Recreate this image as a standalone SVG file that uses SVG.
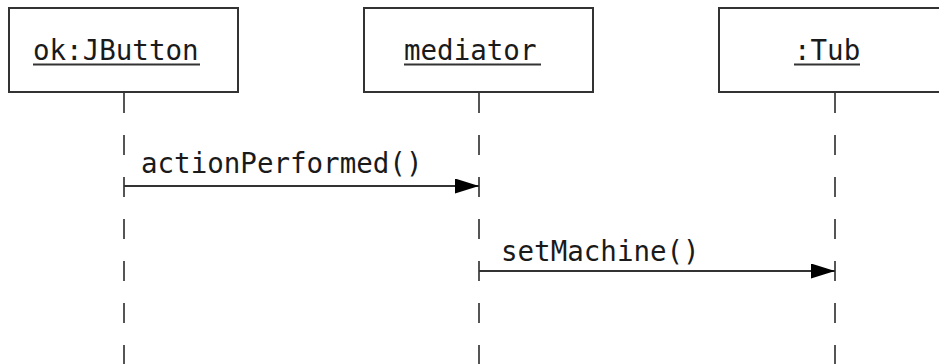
<svg xmlns="http://www.w3.org/2000/svg" width="939" height="364" viewBox="0 0 939 364">
<style>
.box{fill:#fff;stroke:#333;stroke-width:2}
.t{font-family:"DejaVu Sans Mono","Liberation Mono",monospace;font-size:27.5px;fill:#1a1a1a}
.u{stroke:#333;stroke-width:2}
.life{stroke:#555;stroke-width:2;stroke-dasharray:20 22;fill:none}
.msg{stroke:#333;stroke-width:2;fill:none}
</style>
<defs>
<marker id="ah" markerWidth="24" markerHeight="15" refX="24" refY="7.5" orient="auto" markerUnits="userSpaceOnUse">
<path d="M0,0 L24,7.5 L0,15 Z" fill="#000"/>
</marker>
</defs>
<g id="connectors">
<line class="life" x1="124" y1="93" x2="124" y2="364"/>
<line class="life" x1="479" y1="93" x2="479" y2="364"/>
<line class="life" x1="835" y1="93" x2="835" y2="364"/>
<line class="msg" x1="124" y1="186" x2="479" y2="186" marker-end="url(#ah)"/>
<text class="t" x="141" y="173">actionPerformed()</text>
<line class="msg" x1="479" y1="271" x2="835" y2="271" marker-end="url(#ah)"/>
<text class="t" x="501" y="261">setMachine()</text>
</g>
<g id="okJButton">
<rect class="box" x="9" y="8" width="229" height="84"/>
<text class="t" x="33" y="60">ok:JButton</text>
<line class="u" x1="33" y1="64.5" x2="200" y2="64.5"/>
</g>
<g id="mediator">
<rect class="box" x="364" y="8" width="229" height="84"/>
<text class="t" x="404" y="60">mediator</text>
<line class="u" x1="404" y1="64.5" x2="541" y2="64.5"/>
</g>
<g id="tub">
<rect class="box" x="719" y="8" width="260" height="84"/>
<text class="t" x="794" y="60">:Tub</text>
<line class="u" x1="794" y1="64.5" x2="860" y2="64.5"/>
</g>
</svg>
